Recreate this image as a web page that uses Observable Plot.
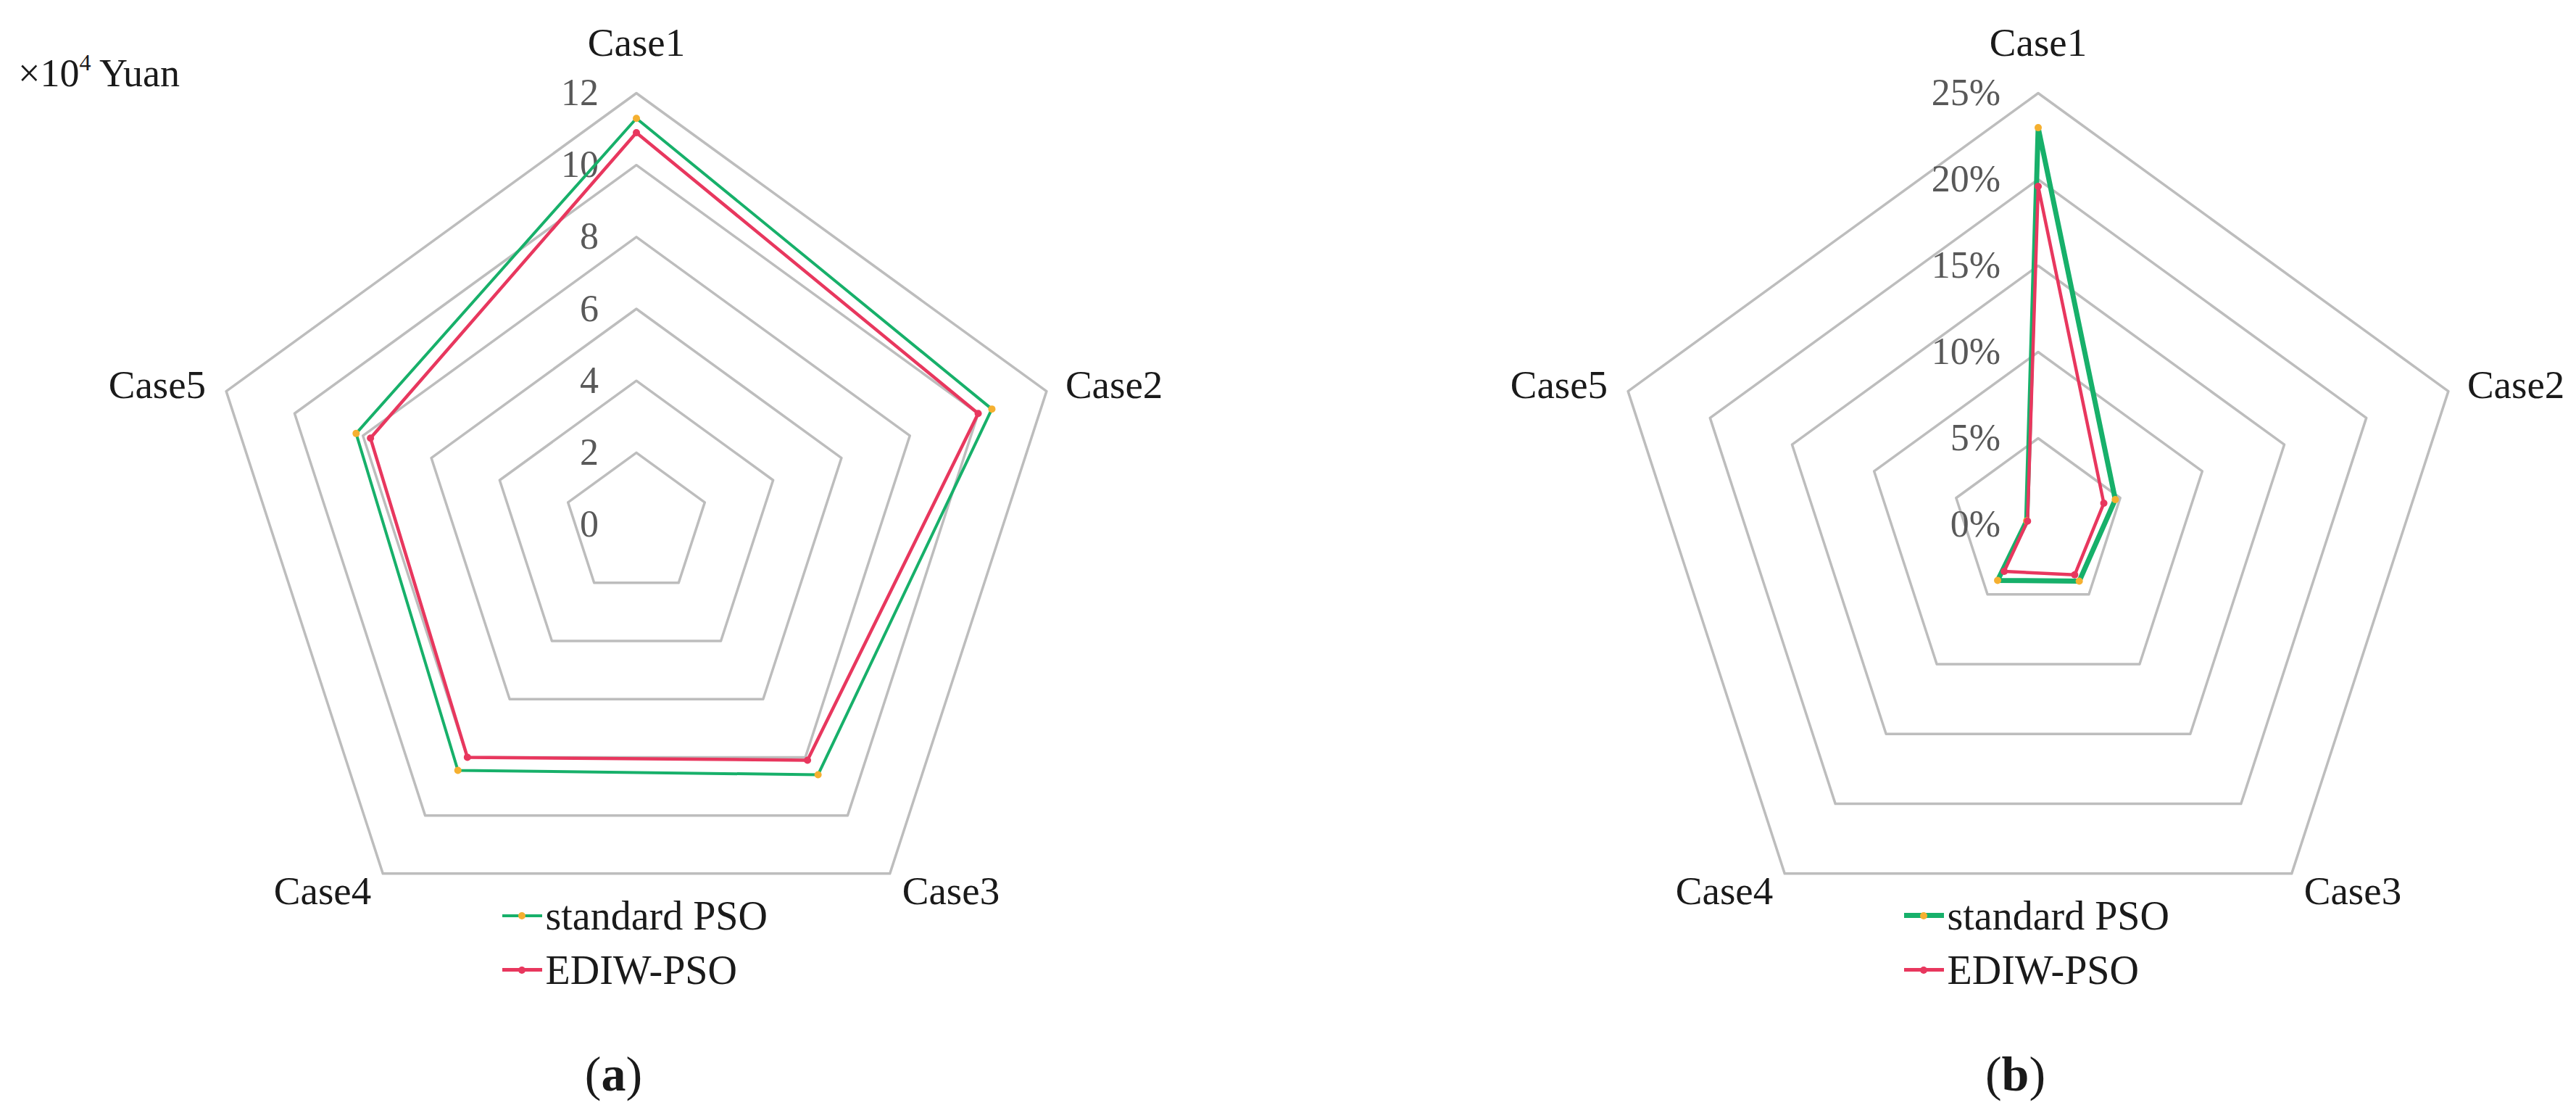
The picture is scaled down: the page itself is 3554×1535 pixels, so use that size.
<!DOCTYPE html>
<html>
<head>
<meta charset="utf-8">
<script src="https://cdn.jsdelivr.net/npm/d3@7"></script>
<script src="https://cdn.jsdelivr.net/npm/@observablehq/plot@0.6"></script>
<style>
  html, body { margin: 0; padding: 0; background: #ffffff; }
  #fig { position: relative; width: 3554px; height: 1535px; background: #ffffff;
         font-family: "Liberation Serif", "DejaVu Serif", serif; color: #1a1a1a; overflow: hidden; }
  .panel { position: absolute; top: 0; width: 1777px; height: 1535px; }
  .panel svg { position: absolute; left: 0; top: 0; }
  .unit { position: absolute; left: 25px; top: 74px; font-size: 54px; line-height: 1; white-space: nowrap; }
  .unit sup { font-size: 32px; vertical-align: 0; position: relative; top: -22px; }
  .legend { position: absolute; top: 1225px; font-size: 56px; line-height: 1; }
  .item { display: flex; align-items: center; height: 75px; white-space: nowrap; }
  .sw { position: relative; width: 55px; height: 12px; margin-right: 5px; flex: none; }
  .sw .ln { position: absolute; left: 0; right: 0; top: 50%; }
  .sw .mk { position: absolute; left: 50%; top: 50%; width: 10px; height: 10px; margin: -5px 0 0 -5px; border-radius: 50%; }
  .cap { position: absolute; top: 1447px; font-size: 68px; line-height: 1; transform: translateX(-50%); white-space: nowrap; }
</style>
</head>
<body>
<div id="fig"></div>
<script>
// ---------- data ----------
const categories = ["Case1", "Case2", "Case3", "Case4", "Case5"];
const seriesNames = ["standard PSO", "EDIW-PSO"];

// (a) cost, ×10^4 Yuan
const costStandard = [11.3, 10.4, 8.6, 8.45, 8.2];
const costEDIW     = [10.9, 10.0, 8.1, 8.0, 7.78];
const costTicks    = [0, 2, 4, 6, 8, 10, 12];
const costUnit     = "Yuan";

// (b) rate, %
const rateStandard = [23.0, 4.7, 4.05, 4.0, 0.7];
const rateEDIW     = [19.6, 4.0, 3.6, 3.35, 0.65];
const rateTicks    = [0, 5, 10, 15, 20, 25];

const panelLabels = ["a", "b"];

// ---------- styling ----------
const gridColor = "#bdbdbd";
const tickColor = "#595959";
const lineColors = ["#17b06a", "#e8375e"];
const markerColors = ["#f5b030", "#e8375e"];

const W = 1777, H = 1260, R = 595, CY = 723;

function radar({values, ticks, fmt, cx, widths}) {
  const max = d3.max(ticks);
  const n = categories.length;
  const ang = i => i * 2 * Math.PI / n;
  const px = (v, i) => v * Math.sin(ang(i));
  const py = (v, i) => v * Math.cos(ang(i));

  const rings = ticks.filter(t => t > 0).flatMap(t => categories.map((c, i) => ({t, i})));
  const rows = seriesNames.flatMap((s, k) => values[k].map((v, i) => ({s, k, v, i})));

  const marginTop = CY - R;
  const yMin = -0.85 * max;
  const marginBottom = H - (marginTop + (max - yMin) * R / max);

  const labelMarks = categories.map((c, i) => {
    const s = Math.sin(ang(i)), co = Math.cos(ang(i));
    let anchor = "middle", dx = 0, dy = -69;
    if (Math.abs(s) > 1e-6) {
      anchor = s > 0 ? "start" : "end";
      if (co > 0) { dx = s > 0 ? 26 : -28; dy = -8; }
      else { dx = s > 0 ? 17 : -16; dy = 25; }
    }
    return Plot.text([c], {
      x: () => px(max, i), y: () => py(max, i), text: d => d,
      textAnchor: anchor, dx, dy, fontSize: 55, fill: "#1a1a1a"
    });
  });

  const seriesMarks = seriesNames.map((s, k) =>
    Plot.line(rows.filter(d => d.k === k), {
      x: d => px(d.v, d.i), y: d => py(d.v, d.i),
      curve: "linear-closed", stroke: lineColors[k], strokeWidth: widths[k], strokeLinejoin: "miter"
    })
  );
  const dotMarks = seriesNames.map((s, k) =>
    Plot.dot(rows.filter(d => d.k === k), {
      x: d => px(d.v, d.i), y: d => py(d.v, d.i), r: 5, fill: markerColors[k], stroke: "none"
    })
  );

  return Plot.plot({
    width: W, height: H,
    marginLeft: cx - R, marginRight: W - cx - R,
    marginTop, marginBottom,
    x: {domain: [-max, max], axis: null},
    y: {domain: [yMin, max], axis: null},
    style: {background: "transparent", fontFamily: "Liberation Serif, serif", overflow: "visible"},
    marks: [
      Plot.line(rings, {
        x: d => px(d.t, d.i), y: d => py(d.t, d.i), z: "t",
        curve: "linear-closed", stroke: gridColor, strokeWidth: 3.5
      }),
      Plot.text(ticks, {
        x: 0, y: d => d, text: fmt, textAnchor: "end", dx: -52,
        fontSize: 52, fill: tickColor
      }),
      ...labelMarks,
      ...seriesMarks,
      ...dotMarks
    ]
  });
}

function legendHTML(cx, widths) {
  const lg = document.createElement("div");
  lg.className = "legend";
  lg.style.left = (cx - 185) + "px";
  seriesNames.forEach((s, k) => {
    const it = document.createElement("div");
    it.className = "item";
    const sw = document.createElement("span");
    sw.className = "sw";
    const ln = document.createElement("span");
    ln.className = "ln";
    ln.style.height = widths[k] + "px";
    ln.style.marginTop = (-widths[k] / 2) + "px";
    ln.style.background = lineColors[k];
    const mk = document.createElement("span");
    mk.className = "mk";
    mk.style.background = markerColors[k];
    sw.append(ln, mk);
    const tx = document.createElement("span");
    tx.textContent = s;
    it.append(sw, tx);
    lg.append(it);
  });
  return lg;
}

const fig = document.getElementById("fig");
const panels = [
  {left: 0, cx: 877.5, values: [costStandard, costEDIW], ticks: costTicks, fmt: d => String(d), widths: [4, 4.5]},
  {left: 1777, cx: 1034.5, values: [rateStandard, rateEDIW], ticks: rateTicks, fmt: d => d + "%", widths: [7, 4.5]}
];

panels.forEach((p, j) => {
  const div = document.createElement("div");
  div.className = "panel";
  div.style.left = p.left + "px";
  div.append(radar(p));
  div.append(legendHTML(p.cx, p.widths));
  const cap = document.createElement("div");
  cap.className = "cap";
  cap.style.left = (p.cx - 31) + "px";
  cap.innerHTML = "(<b>" + panelLabels[j] + "</b>)";
  div.append(cap);
  if (j === 0) {
    const u = document.createElement("div");
    u.className = "unit";
    u.innerHTML = "×10<sup>4</sup> " + costUnit;
    div.append(u);
  }
  fig.append(div);
});
</script>
</body>
</html>
